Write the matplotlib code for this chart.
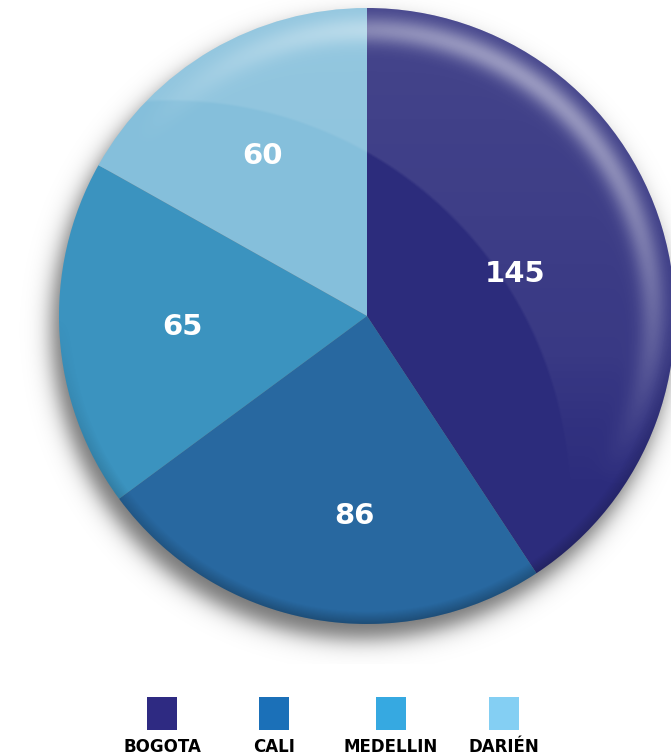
import numpy as np
import matplotlib
matplotlib.use("Agg")
import matplotlib.pyplot as plt
from matplotlib.patches import Circle, Rectangle

# data
cities = ["BOGOTA", "CALI", "MEDELLIN", "DARIÉN"]
values = [145, 86, 65, 60]
pie_colors = ["#2c2c7c", "#2868a0", "#3b93bf", "#85bfdb"]
legend_colors = ["#2e2a82", "#1b70b8", "#36a9e1", "#84cff3"]
label_dist = [0.50, 0.65, 0.60, 0.62]
label_turn = [-1.0, 6.4, 0.0, 2.7]   # small angle nudges (deg)

W, H = 671, 756
cx, cy, R = 367, 440, 308

fig = plt.figure(figsize=(W / 100, H / 100), dpi=100)
ax = fig.add_axes([0, 0, 1, 1])

# soft drop shadow
ext = R + 40
gx, gy = np.meshgrid(np.linspace(cx - ext, cx + ext, 400), np.linspace(cy - ext, cy + ext, 400))
d = np.hypot(gx - (cx - 6), gy - (cy - 14))
sh = np.zeros(gx.shape + (4,))
sh[..., 3] = 0.55 / (1 + np.exp((d - (R + 2)) / 6.5))
ax.imshow(sh, extent=(cx - ext, cx + ext, cy - ext, cy + ext), origin="lower", zorder=0, interpolation="bilinear")

wedges, _ = ax.pie(values, colors=pie_colors, startangle=90, counterclock=False,
                   center=(cx, cy), radius=R, wedgeprops=dict(linewidth=0))
for w in wedges:
    w.set_zorder(1)

# glossy overlay: light cap on upper right + rim highlight
n = 600
ox, oy = np.meshgrid(np.linspace(cx - R, cx + R, n), np.linspace(cy - R, cy + R, n))
rr = np.hypot(ox - cx, oy - cy) / R
phi = np.degrees(np.arctan2(oy - cy, ox - cx))
dc = np.hypot(ox - 170, oy - 256) - 400
cap = np.clip(dc / 3 + 0.5, 0, 1) * (0.07 + 0.05 * (oy - cy) / R)
cap *= np.clip((oy - 250) / 150, 0, 1)
rim = 0.40 * np.exp(-((rr - 0.93) / 0.045) ** 2) * np.clip(np.cos(np.radians(phi - 55)), 0, None) ** 1.2
edge = 0.25 * np.clip((rr - 0.96) / 0.04, 0, 1) * np.clip(-np.sin(np.radians(phi)), 0, None)
ov = np.zeros((n, n, 4))
ov[..., :3] = 1.0
ov[..., 3] = np.clip(cap + rim, 0, 1)
im = ax.imshow(ov, extent=(cx - R, cx + R, cy - R, cy + R), origin="lower", zorder=2, interpolation="bilinear")
im.set_clip_path(Circle((cx, cy), R, transform=ax.transData))
dk = np.zeros((n, n, 4))
dk[..., 3] = edge
im2 = ax.imshow(dk, extent=(cx - R, cx + R, cy - R, cy + R), origin="lower", zorder=2, interpolation="bilinear")
im2.set_clip_path(Circle((cx, cy), R, transform=ax.transData))

# value labels
for w, v, dist, turn in zip(wedges, values, label_dist, label_turn):
    ang = np.radians((w.theta1 + w.theta2) / 2 + turn)
    ax.text(cx + dist * R * np.cos(ang), cy + dist * R * np.sin(ang), str(v),
            color="white", fontsize=21, fontweight="bold", ha="center", va="center", zorder=3)

# legend
lx = [162, 274, 391, 504]
for x, c, name in zip(lx, legend_colors, cities):
    ax.add_patch(Rectangle((x - 15, 26), 30, 33, color=c, lw=0))
    ax.text(x, 9, name, fontsize=12, fontweight="bold", ha="center", va="center", color="black")

ax.set_xlim(0, W)
ax.set_ylim(0, H)
ax.set_aspect("equal")
ax.axis("off")
fig.savefig("out.png", dpi=100)
